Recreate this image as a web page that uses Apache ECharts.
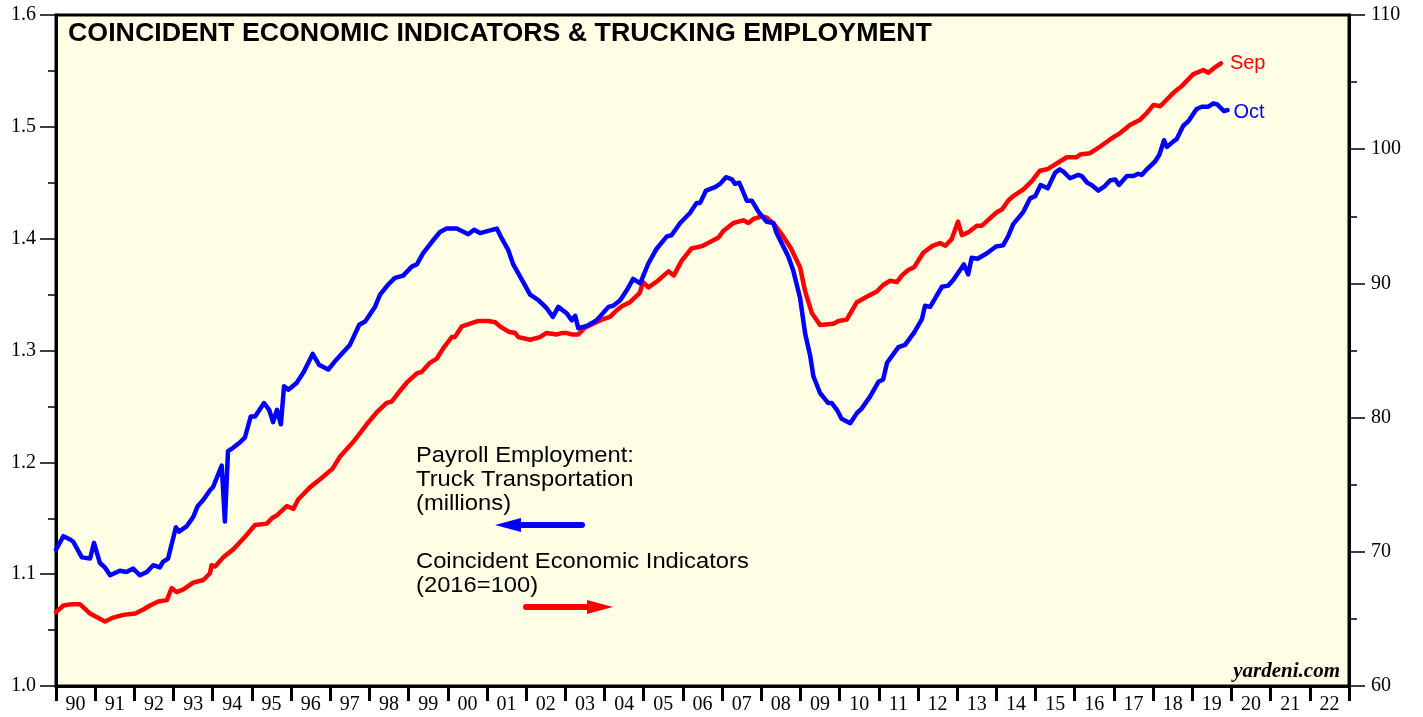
<!DOCTYPE html>
<html>
<head>
<meta charset="utf-8">
<script src="https://cdn.jsdelivr.net/npm/echarts/dist/echarts.min.js"></script>
<style>
  html, body { margin: 0; padding: 0; background: #ffffff; }
  #chart { width: 1423px; height: 717px; }
</style>
</head>
<body>
<div id="chart"></div>
<script>
// Year tick labels, one per calendar year band (1990 .. 2022)
const yearLabels = ['90','91','92','93','94','95','96','97','98','99',
  '00','01','02','03','04','05','06','07','08','09',
  '10','11','12','13','14','15','16','17','18','19',
  '20','21','22'];

// Payroll employment, truck transportation (millions): [decimal year, value]
const truckReadings = [
  [1990.00,1.122],[1990.19,1.134],[1990.36,1.131],[1990.44,1.129],[1990.66,1.115],[1990.87,1.114],
  [1990.97,1.128],[1991.12,1.110],[1991.25,1.106],[1991.38,1.099],[1991.63,1.103],[1991.80,1.102],
  [1991.97,1.105],[1992.14,1.099],[1992.32,1.102],[1992.48,1.108],[1992.65,1.106],[1992.73,1.111],
  [1992.86,1.114],[1993.06,1.142],[1993.14,1.138],[1993.34,1.143],[1993.50,1.151],[1993.62,1.161],
  [1993.75,1.166],[1993.93,1.175],[1994.01,1.178],[1994.23,1.197],[1994.31,1.147],[1994.39,1.210],
  [1994.52,1.213],[1994.70,1.218],[1994.82,1.222],[1994.97,1.241],[1995.08,1.241],[1995.31,1.253],
  [1995.44,1.247],[1995.54,1.236],[1995.64,1.247],[1995.74,1.234],[1995.82,1.268],[1995.93,1.265],
  [1996.14,1.271],[1996.31,1.280],[1996.44,1.289],[1996.55,1.297],[1996.72,1.287],[1996.95,1.283],
  [1997.16,1.292],[1997.50,1.305],[1997.74,1.323],[1997.89,1.326],[1998.14,1.339],[1998.27,1.350],
  [1998.48,1.359],[1998.65,1.365],[1998.86,1.367],[1999.08,1.375],[1999.21,1.377],[1999.37,1.387],
  [1999.59,1.397],[1999.80,1.406],[1999.97,1.409],[2000.23,1.409],[2000.52,1.404],[2000.67,1.408],
  [2000.82,1.405],[2001.25,1.409],[2001.38,1.400],[2001.54,1.390],[2001.67,1.377],[2001.80,1.369],
  [2002.10,1.350],[2002.31,1.345],[2002.52,1.338],[2002.68,1.330],[2002.82,1.339],[2003.04,1.333],
  [2003.16,1.327],[2003.25,1.331],[2003.33,1.320],[2003.55,1.322],[2003.80,1.327],[2004.10,1.339],
  [2004.22,1.340],[2004.40,1.345],[2004.57,1.354],[2004.73,1.364],[2004.91,1.360],[2005.12,1.378],
  [2005.33,1.391],[2005.59,1.402],[2005.71,1.403],[2005.93,1.414],[2006.18,1.423],[2006.35,1.432],
  [2006.44,1.432],[2006.59,1.443],[2006.82,1.446],[2006.95,1.449],[2007.10,1.455],[2007.25,1.453],
  [2007.33,1.449],[2007.44,1.450],[2007.63,1.434],[2007.76,1.434],[2007.93,1.424],[2008.14,1.415],
  [2008.31,1.414],[2008.39,1.405],[2008.52,1.396],[2008.69,1.384],[2008.82,1.371],[2008.99,1.347],
  [2009.12,1.315],[2009.25,1.295],[2009.33,1.277],[2009.50,1.262],[2009.71,1.253],[2009.80,1.253],
  [2009.93,1.247],[2010.05,1.239],[2010.27,1.235],[2010.44,1.244],[2010.56,1.248],[2010.78,1.259],
  [2010.99,1.272],[2011.11,1.274],[2011.21,1.289],[2011.50,1.303],[2011.67,1.305],[2011.90,1.316],
  [2012.10,1.328],[2012.18,1.340],[2012.31,1.339],[2012.61,1.357],[2012.77,1.358],[2012.90,1.363],
  [2013.17,1.377],[2013.28,1.368],[2013.37,1.383],[2013.52,1.382],[2013.76,1.387],[2013.99,1.393],
  [2014.17,1.394],[2014.30,1.402],[2014.43,1.413],[2014.69,1.424],[2014.86,1.436],[2014.99,1.438],
  [2015.13,1.448],[2015.31,1.445],[2015.50,1.459],[2015.62,1.462],[2015.71,1.460],[2015.88,1.454],
  [2016.09,1.457],[2016.18,1.456],[2016.32,1.450],[2016.43,1.448],[2016.60,1.443],[2016.77,1.447],
  [2016.90,1.452],[2017.03,1.453],[2017.13,1.448],[2017.33,1.456],[2017.50,1.456],[2017.62,1.458],
  [2017.71,1.457],[2017.84,1.462],[2018.05,1.469],[2018.16,1.475],[2018.28,1.488],[2018.35,1.482],
  [2018.52,1.487],[2018.60,1.489],[2018.77,1.501],[2018.90,1.505],[2019.11,1.516],[2019.24,1.518],
  [2019.41,1.518],[2019.54,1.521],[2019.64,1.520],[2019.81,1.514],[2019.90,1.515]
];

// Coincident economic indicators (2016=100): [decimal year, value]
const ceiReadings = [
  [1990.00,65.5],[1990.19,66.0],[1990.40,66.1],[1990.61,66.1],[1990.87,65.4],[1991.06,65.1],
  [1991.25,64.8],[1991.46,65.1],[1991.72,65.3],[1992.02,65.4],[1992.23,65.7],[1992.40,66.0],
  [1992.61,66.3],[1992.83,66.4],[1992.95,67.3],[1993.08,67.0],[1993.25,67.2],[1993.50,67.7],
  [1993.76,67.9],[1993.93,68.4],[1993.97,69.0],[1994.06,68.9],[1994.27,69.6],[1994.53,70.2],
  [1994.82,71.1],[1995.08,72.0],[1995.38,72.1],[1995.51,72.5],[1995.63,72.7],[1995.89,73.4],
  [1996.06,73.2],[1996.18,73.9],[1996.48,74.8],[1996.74,75.4],[1997.06,76.2],[1997.25,77.1],
  [1997.59,78.2],[1997.93,79.5],[1998.19,80.4],[1998.44,81.1],[1998.57,81.2],[1998.70,81.7],
  [1998.95,82.6],[1999.21,83.3],[1999.33,83.4],[1999.55,84.1],[1999.72,84.4],[1999.89,85.2],
  [2000.10,86.0],[2000.18,86.0],[2000.36,86.8],[2000.57,87.0],[2000.78,87.2],[2001.03,87.2],
  [2001.21,87.1],[2001.33,86.8],[2001.55,86.4],[2001.72,86.3],[2001.80,86.0],[2002.10,85.8],
  [2002.35,86.0],[2002.51,86.3],[2002.78,86.2],[2002.91,86.3],[2003.04,86.3],[2003.16,86.2],
  [2003.33,86.2],[2003.50,86.7],[2003.71,87.0],[2003.93,87.3],[2004.14,87.5],[2004.31,88.0],
  [2004.44,88.3],[2004.65,88.6],[2004.90,89.3],[2004.98,90.1],[2005.12,89.7],[2005.36,90.2],
  [2005.63,90.9],[2005.77,90.6],[2005.97,91.7],[2006.22,92.6],[2006.51,92.8],[2006.90,93.4],
  [2007.03,93.9],[2007.29,94.5],[2007.54,94.7],[2007.67,94.5],[2007.80,94.8],[2008.01,95.0],
  [2008.14,94.9],[2008.33,94.4],[2008.56,93.5],[2008.76,92.6],[2008.89,91.8],[2008.99,91.2],
  [2009.12,89.4],[2009.29,87.8],[2009.50,86.9],[2009.84,87.0],[2009.97,87.2],[2010.18,87.3],
  [2010.44,88.6],[2010.69,89.0],[2010.95,89.4],[2011.12,89.9],[2011.29,90.2],[2011.46,90.1],
  [2011.59,90.6],[2011.75,91.0],[2011.90,91.2],[2012.14,92.3],[2012.37,92.8],[2012.56,93.0],
  [2012.70,92.8],[2012.86,93.3],[2013.02,94.6],[2013.12,93.6],[2013.28,93.8],[2013.50,94.3],
  [2013.63,94.3],[2013.78,94.7],[2014.01,95.3],[2014.14,95.5],[2014.31,96.2],[2014.43,96.5],
  [2014.69,97.0],[2014.90,97.6],[2015.11,98.4],[2015.29,98.5],[2015.41,98.7],[2015.63,99.1],
  [2015.80,99.4],[2016.05,99.4],[2016.14,99.6],[2016.39,99.7],[2016.65,100.2],[2016.99,100.9],
  [2017.16,101.2],[2017.41,101.8],[2017.67,102.2],[2017.84,102.7],[2018.01,103.3],[2018.18,103.2],
  [2018.52,104.2],[2018.73,104.7],[2019.03,105.6],[2019.28,105.9],[2019.41,105.7],[2019.58,106.1],
  [2019.73,106.4]
];

const truckLastMonth = 'Oct';
const ceiLastMonth = 'Sep';

const BLUE = '#0000ff';
const RED = '#ff0000';
const SANS = '"Liberation Sans", Arial, sans-serif';
const SERIF = '"Liberation Serif", "Times New Roman", serif';

const chart = echarts.init(document.getElementById('chart'), null, { renderer: 'canvas' });

function textEl(x, y, text, font, fill, sx) {
  return {
    type: 'text', x: x, y: y, scaleX: sx || 1, silent: true, z: 10,
    style: { text: text, font: font, fill: fill, textVerticalAlign: 'middle', textAlign: 'left' }
  };
}

const option = {
  animation: false,
  backgroundColor: '#ffffff',
  grid: {
    left: 56, top: 15, right: 74, bottom: 31,
    show: true, backgroundColor: '#ffffe6', borderColor: '#000', borderWidth: 3
  },
  xAxis: [
    { type: 'value', min: 1990, max: 2023, show: false },
    {
      type: 'category', data: yearLabels, boundaryGap: true, position: 'bottom',
      axisLine: { show: true, lineStyle: { color: '#000', width: 3 } },
      axisTick: { show: true, length: 15, inside: false, lineStyle: { color: '#000', width: 3 } },
      axisLabel: { show: true, interval: 0, margin: 9, color: '#000', fontFamily: SERIF, fontSize: 20 },
      splitLine: { show: false }
    }
  ],
  yAxis: [
    {
      type: 'value', position: 'left', min: 1.0, max: 1.6, interval: 0.1,
      axisLine: { show: true, lineStyle: { color: '#000', width: 3 } },
      axisTick: { show: true, length: 16, lineStyle: { color: '#000', width: 1.5 } },
      minorTick: { show: true, splitNumber: 2, length: 8, lineStyle: { color: '#000', width: 1.5 } },
      axisLabel: { margin: 20, color: '#000', fontFamily: SERIF, fontSize: 20,
                   formatter: v => v.toFixed(1) },
      splitLine: { show: false }
    },
    {
      type: 'value', position: 'right', min: 60, max: 110, interval: 10,
      axisLine: { show: true, lineStyle: { color: '#000', width: 3 } },
      axisTick: { show: true, length: 16, lineStyle: { color: '#000', width: 1.5 } },
      minorTick: { show: true, splitNumber: 2, length: 8, lineStyle: { color: '#000', width: 1.5 } },
      axisLabel: { margin: 22, color: '#000', fontFamily: SERIF, fontSize: 20 },
      splitLine: { show: false }
    }
  ],
  series: [
    {
      name: 'Coincident Economic Indicators', type: 'line', xAxisIndex: 0, yAxisIndex: 1,
      data: ceiReadings, showSymbol: false, smooth: false, z: 3,
      lineStyle: { color: RED, width: 4.5, join: 'round', cap: 'round' },
      endLabel: { show: true, formatter: () => ceiLastMonth, color: RED,
                  fontFamily: SANS, fontSize: 20, distance: 9 }
    },
    {
      name: 'Payroll Employment: Truck Transportation', type: 'line', xAxisIndex: 0, yAxisIndex: 0,
      data: truckReadings, showSymbol: false, smooth: false, z: 4,
      lineStyle: { color: BLUE, width: 4.5, join: 'round', cap: 'round' },
      endLabel: { show: true, formatter: () => truckLastMonth, color: BLUE,
                  fontFamily: SANS, fontSize: 20, distance: 6, offset: [0, 2] }
    }
  ],
  graphic: [
    textEl(68, 34, 'COINCIDENT ECONOMIC INDICATORS & TRUCKING EMPLOYMENT', 'bold 25px ' + SANS, '#000', 1.07),
    textEl(416, 456, 'Payroll Employment:', '22px ' + SANS, '#000', 1.08),
    textEl(416, 480, 'Truck Transportation', '22px ' + SANS, '#000', 1.08),
    textEl(416, 504, '(millions)', '22px ' + SANS, '#000', 1.08),
    textEl(416, 562, 'Coincident Economic Indicators', '22px ' + SANS, '#000', 1.08),
    textEl(416, 586, '(2016=100)', '22px ' + SANS, '#000', 1.08),
    {
      type: 'text', x: 1340, y: 672, silent: true, z: 10,
      style: { text: 'yardeni.com', font: 'italic bold 21px ' + SERIF, fill: '#000',
               textAlign: 'right', textVerticalAlign: 'middle' }
    },
    // left-pointing arrow (left scale)
    { type: 'line', silent: true, z: 10,
      shape: { x1: 516, y1: 525, x2: 582, y2: 525 },
      style: { stroke: BLUE, lineWidth: 6, lineCap: 'round' } },
    { type: 'polygon', silent: true, z: 10,
      shape: { points: [[495, 525], [521, 518], [521, 532]] },
      style: { fill: BLUE } },
    // right-pointing arrow (right scale)
    { type: 'line', silent: true, z: 10,
      shape: { x1: 526, y1: 607, x2: 592, y2: 607 },
      style: { stroke: RED, lineWidth: 6, lineCap: 'round' } },
    { type: 'polygon', silent: true, z: 10,
      shape: { points: [[613, 607], [587, 600], [587, 614]] },
      style: { fill: RED } }
  ]
};

chart.setOption(option);
</script>
</body>
</html>
